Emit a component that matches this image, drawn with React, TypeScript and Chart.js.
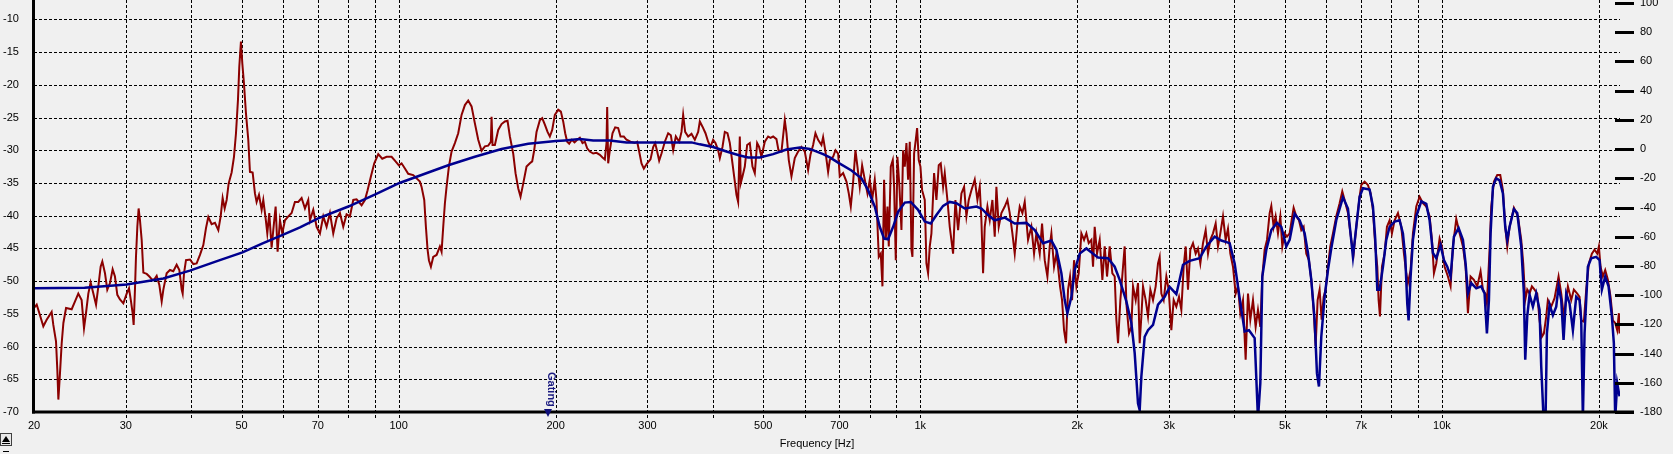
import React, { useEffect, useRef } from 'react';
import { Chart, registerables } from 'chart.js';

Chart.register(...registerables);

// Measured response (dark red)
const redFreq = [
  20.0, 20.24, 20.48, 20.84, 21.15, 21.62, 21.78, 22.04, 22.17, 22.27, 22.43, 22.6, 22.77, 23.04, 23.62, 23.97, 24.32, 24.68, 24.94, 25.16,
  25.42, 25.68, 25.99, 26.3, 26.57, 26.84, 27.04, 27.36, 27.64, 27.97, 28.3, 28.59, 28.89, 29.23, 29.67, 30.11, 30.42, 30.69, 30.91, 31.05,
  31.23, 31.37, 31.56, 31.74, 31.93, 32.17, 32.41, 32.89, 33.28, 33.62, 33.97, 34.37, 34.78, 35.14, 35.4, 35.92, 36.45, 36.99, 37.54, 37.99,
  38.38, 38.55, 38.78, 39.12, 39.82, 40.41, 41.0, 41.61, 42.23, 42.73, 43.17, 43.81, 44.46, 45.12, 45.59, 45.99, 46.4, 46.81, 47.22, 47.85,
  48.35, 48.78, 49.21, 49.5, 49.86, 50.16, 50.53, 50.98, 51.5, 51.88, 52.5, 53.04, 53.43, 53.99, 54.63, 55.03, 55.6, 56.01, 56.5, 57.09,
  57.51, 58.11, 58.62, 59.23, 59.84, 60.55, 61.45, 62.36, 63.27, 64.21,
  65.17, 66.14, 67.11, 67.61, 68.61, 69.63, 70.66, 71.71, 72.77, 73.85, 74.94, 76.05, 77.18, 78.32, 79.48, 80.66, 81.86, 83.07, 84.92, 86.18,
  87.2, 88.49, 89.81, 91.41, 93.03, 94.83, 96.94, 98.38, 100.13, 101.32, 102.82, 104.34, 106.67, 108.25, 109.86, 110.67, 111.98, 112.8, 113.64, 114.31,
  115.32, 116.51, 118.24, 119.99, 120.88, 121.77, 122.67, 123.57, 124.85, 126.33, 128.2, 130.1, 132.03, 133.99, 135.97, 137.99, 140.03, 142.11, 144.21, 146.35,
  148.52, 150.27, 150.72, 151.38, 152.95, 155.22, 157.52, 159.85, 161.74, 163.42, 165.84, 167.55, 169.54, 171.29, 173.32, 175.89, 178.5, 180.34, 181.94, 183.82,
  186.55, 188.48, 190.71, 192.97, 194.96, 196.98, 199.31, 202.27, 204.66, 206.78,
  207.39, 208.61, 210.46, 212.33, 214.84, 217.38, 219.96, 222.56, 225.2, 227.53, 229.88, 232.6, 236.05, 239.55, 243.09, 245.97, 248.52, 250.35, 251.09, 252.2,
  254.06, 257.07, 260.11, 263.58, 266.31, 270.25, 273.45, 278.32, 283.7, 286.63, 289.17, 292.17, 295.19, 299.56, 304.01, 307.6, 310.33, 313.08, 315.86, 319.13,
  323.86, 328.65, 332.55, 335.99, 339.96, 345.0, 348.57, 351.14, 354.26, 358.98, 364.3, 369.69, 375.17, 377.94, 382.42, 387.51, 392.1, 396.16, 400.84, 404.99,
  409.78, 412.81, 417.69, 422.02, 427.01, 431.43, 436.54, 441.06, 444.31, 447.59, 450.9, 452.89, 456.23, 460.96, 465.73, 471.24, 476.82, 481.75, 486.74, 491.05,
  496.13, 503.49, 510.95, 516.24, 522.35, 530.08, 534.79, 541.92, 549.94, 554.01, 559.74, 566.36, 574.75, 583.27, 591.91, 600.68, 609.58, 615.89, 623.18, 629.63,
  637.08, 646.52, 651.3, 658.04, 665.83,
  670.8, 680.7, 687.8, 695.9, 701.0, 711.4, 722.0, 729.4, 735.9, 743.5, 751.2, 757.9, 765.7, 773.7, 782.8, 792.1, 800.3, 808.6, 818.1, 824.2,
  832.7, 840.1, 846.3, 852.5, 858.8, 865.2, 870.3, 878.0, 885.8, 891.0, 897.6, 904.2, 912.2, 920.3, 927.1, 933.9, 940.8, 947.8, 954.8, 961.8,
  966.1, 973.2, 980.4, 986.2, 993.4, 1000.8, 1008.2, 1020.1, 1027.6, 1035.2, 1042.9, 1050.6, 1063.0, 1074.0, 1085.1, 1094.7, 1106.1, 1114.2, 1127.4, 1139.1,
  1156.0, 1167.9, 1181.8, 1199.3, 1213.5, 1226.0, 1238.7, 1253.4, 1271.9, 1287.0, 1300.3, 1309.9, 1319.6, 1329.3, 1345.1, 1359.0, 1375.0, 1389.3, 1399.5, 1414.0,
  1430.8, 1452.0, 1469.2, 1484.3, 1501.9, 1517.5, 1535.4, 1551.3, 1569.7, 1585.9, 1609.4, 1633.3, 1652.6, 1669.7, 1694.4, 1712.0, 1732.3, 1752.8, 1770.9, 1784.0,
  1805.1, 1823.8, 1837.2, 1853.5, 1870.0, 1886.5, 1903.2, 1920.1, 1937.1, 1954.3, 1971.6, 1992.0, 2012.6, 2036.5, 2060.6, 2081.9, 2103.5, 2128.4, 2144.1,
  2159.8, 2182.2, 2208.0, 2234.2, 2257.3, 2280.6, 2307.6, 2334.9, 2359.1, 2376.5, 2394.1, 2418.9, 2447.5, 2465.5, 2483.8, 2513.1, 2539.2, 2557.9, 2588.2, 2615.0,
  2634.3, 2653.7, 2673.3, 2705.0, 2732.9, 2761.2, 2793.9, 2827.0, 2856.2, 2877.3, 2898.6, 2928.5, 2963.2, 2993.8, 3029.3, 3060.7, 3096.9, 3133.6, 3166.0, 3198.8,
  3227.1, 3260.5, 3294.3, 3333.3, 3372.8, 3407.6, 3442.9, 3483.6, 3524.9, 3561.4, 3598.2, 3640.8, 3683.9, 3722.0, 3760.6, 3805.1, 3850.1, 3890.0, 3930.2, 3976.8,
  4023.8, 4065.5, 4107.6, 4156.2, 4205.3, 4248.9, 4292.8, 4343.6, 4395.1, 4440.5, 4486.5, 4526.2, 4573.1, 4620.5, 4675.2, 4709.7, 4758.4, 4800.6, 4850.3, 4900.5,
  4943.9, 4995.1, 5046.8, 5106.5, 5151.8, 5197.5, 5258.9, 5321.2, 5376.2, 5431.9, 5496.2, 5561.3, 5618.8, 5677.0, 5727.3, 5778.1, 5829.3, 5880.9, 5933.1, 5985.7,
  6047.6, 6110.2, 6182.5, 6274.2, 6367.1, 6442.5, 6509.1, 6605.6, 6703.5, 6772.9, 6853.0, 6954.6,
  7006, 7110, 7215, 7301, 7376, 7453, 7519, 7563, 7608, 7675, 7766, 7846, 7939, 8021, 8116, 8237, 8359, 8458, 8545, 8608,
  8710, 8800, 8931, 9063, 9197, 9334, 9472, 9570, 9655, 9755, 9899, 10002, 10120, 10270, 10391, 10499, 10655, 10813, 10973, 11103,
  11218, 11350, 11518, 11689, 11862, 11985, 12109, 12198, 12343, 12434, 12581, 12768, 12938, 13091, 13226, 13344, 13482, 13742, 13987, 14194,
  14320, 14447, 14575, 14726, 14878, 15054, 15232, 15390, 15549, 15687, 15849, 15966, 16203, 16443, 16736, 16934, 17134, 17440, 17698, 17907,
  18173, 18361, 18497, 18715, 18909, 19133, 19388, 19617, 19850, 19996, 20144, 20352, 20563, 20806, 21053, 21270, 21490, 21681, 21841, 21905,
];
const redDb = [
  -54.1, -53.6, -54.9, -56.9, -55.9, -54.7, -56.7, -59.2, -63.6, -68.1, -64.1, -59.5, -56.4, -54.1, -54.3, -53.1, -51.9, -52.9, -57.2, -54.9,
  -51.9, -50.2, -51.9, -53.6, -50.8, -47.8, -47.0, -48.8, -51.3, -50.3, -48.2, -49.3, -52.1, -52.8, -53.4, -51.9, -51.1, -53.1, -54.9, -56.7,
  -51.3, -46.3, -41.7, -38.9, -40.7, -43.7, -48.7, -48.9, -49.3, -49.7, -49.8, -49.2, -50.6, -53.1, -51.3, -48.8, -48.3, -48.5, -47.5, -48.3,
  -51.3, -51.9, -48.8, -46.8, -46.7, -47.4, -47.3, -46.0, -44.5, -41.9, -40.2, -41.3, -41.1, -42.2, -40.1, -37.3, -38.9, -37.6, -35.1, -33.4,
  -31.0, -27.4, -22.3, -17.2, -13.4, -16.7, -19.8, -24.4, -28.4, -33.3, -33.4, -36.6, -37.9, -36.8, -39.1, -37.6, -40.4, -42.7, -39.6, -44.9,
  -42.2, -38.6, -45.5, -40.7, -42.7, -40.7, -40.1, -39.6, -37.9, -37.9,
  -37.3, -38.9, -37.6, -40.7, -39.1, -41.7, -42.7, -40.1, -41.7, -39.6, -42.7, -40.4, -39.6, -41.7, -39.8, -40.1, -37.6, -37.5, -38.4, -37.6,
  -36.1, -34.0, -32.0, -30.6, -31.3, -31.0, -31.0, -31.6, -32.3, -32.0, -32.8, -33.6, -33.8, -34.3, -34.8, -35.6, -37.6, -41.7, -45.2, -46.8,
  -47.8, -46.3, -46.0, -44.7, -45.5, -41.7, -38.1, -35.6, -32.5, -30.2, -28.9, -27.4, -24.6, -23.1, -22.4, -23.3, -25.9, -28.4, -30.1, -29.4,
  -29.3, -28.7, -24.9, -29.2, -29.2, -26.9, -26.0, -25.6, -25.5, -27.9, -30.5, -33.5, -35.8, -37.1, -35.1, -32.5, -32.0, -31.7, -30.0, -27.2,
  -25.4, -25.1, -26.1, -27.2, -27.9, -26.9, -24.6, -23.8, -24.1, -25.6,
  -25.6, -27.4, -28.7, -29.0, -28.4, -28.8, -28.4, -28.1, -28.9, -28.7, -29.7, -30.2, -30.5, -30.4, -30.7, -31.1, -31.4, -28.9, -23.4, -32.0,
  -30.0, -27.4, -26.5, -26.6, -27.9, -27.9, -28.4, -28.7, -28.9, -28.7, -30.2, -32.0, -32.8, -32.0, -31.4, -29.5, -28.9, -30.2, -31.6, -30.5,
  -28.7, -27.4, -27.7, -30.0, -27.9, -28.7, -27.2, -24.6, -27.2, -27.9, -27.5, -28.4, -27.2, -25.6, -26.4, -27.4, -28.7, -29.5, -28.4, -28.9,
  -30.0, -31.2, -29.5, -27.2, -27.4, -28.9, -32.0, -34.8, -36.8, -37.9, -27.9, -35.0, -34.0, -32.5, -29.2, -28.9, -32.5, -33.5, -28.9, -29.5,
  -31.0, -28.7, -27.9, -28.1, -27.9, -28.3, -30.0, -30.2, -25.4, -27.4, -31.5, -34.0, -31.2, -30.2, -29.5, -30.2, -33.0, -30.7, -29.2, -27.4,
  -28.4, -29.2, -28.0, -30.2, -33.3,
  -31.5, -31.0, -30.0, -30.5, -34.0, -33.5, -34.8, -36.6, -38.6, -34.9, -30.0, -32.5, -35.6, -32.3, -34.5, -36.6, -34.5, -37.6, -34.5, -37.6,
  -46.3, -45.8, -50.8, -34.5, -43.7, -38.6, -44.7, -32.5, -31.5, -35.6, -46.8, -31.0, -35.6, -42.2, -30.0, -32.5, -28.9, -34.5, -28.7, -45.2,
  -46.3, -30.5, -28.4, -26.6, -31.5, -32.5, -36.1, -37.6, -47.3, -48.8, -44.7, -42.7, -33.5, -37.6, -32.3, -32.0, -35.6, -33.5, -37.6, -41.7,
  -45.8, -37.6, -42.2, -36.6, -35.6, -40.1, -37.6, -36.1, -34.5, -37.6, -35.6, -40.7, -48.8, -41.7, -38.6, -40.7, -37.6, -43.2, -35.6, -41.7,
  -39.6, -38.6, -37.6, -39.6, -42.7, -45.8, -41.2, -38.6, -39.6, -37.9, -43.7, -41.7, -45.8, -42.7, -45.8, -41.2, -46.8, -49.3, -44.7, -42.7,
  -47.8, -45.8, -47.8, -50.8, -52.9, -57.5, -59.5, -51.3, -49.3, -52.9, -46.8, -50.8, -48.8, -42.7, -43.7, -42.7, -44.2, -43.7, -47.8,
  -41.7, -45.8, -43.7, -49.8, -44.7, -49.3, -44.7, -48.8, -49.3, -55.9, -59.5, -52.9, -47.8, -44.7, -53.4, -58.0, -57.0, -50.8, -52.9, -50.3,
  -59.5, -55.4, -50.8, -52.9, -55.4, -51.3, -52.9, -50.8, -47.3, -46.3, -51.9, -52.9, -49.3, -51.3, -57.5, -52.9, -53.9, -52.4, -54.4, -47.8,
  -44.7, -51.3, -45.2, -44.2, -45.8, -45.0, -47.3, -44.2, -42.2, -45.8, -43.7, -42.7, -41.2, -44.7, -42.7, -40.1, -43.7, -42.0, -45.8, -47.8,
  -51.9, -50.8, -54.9, -52.9, -62.0, -51.9, -55.9, -52.9, -57.0, -54.4, -57.0, -49.3, -45.2, -43.7, -39.6, -38.5, -41.7, -40.1, -42.7, -40.1,
  -44.7, -42.7, -43.2, -42.7, -40.7, -38.8, -40.1, -40.7, -42.2, -41.7, -45.8, -46.8, -49.8, -54.4, -59.9, -52.9, -51.3, -55.9, -52.4, -51.3,
  -47.8, -44.7, -42.7, -40.1, -38.1, -36.3, -37.6, -39.6, -43.7, -45.8, -41.7, -37.1,
  -35.3, -34.8, -35.3, -36.6, -39.1, -44.7, -47.8, -52.9, -55.4, -47.8, -45.8, -41.7, -40.7, -42.7, -40.7, -39.6, -41.7, -45.8, -48.8, -50.3,
  -48.3, -42.7, -38.6, -37.1, -38.1, -38.6, -40.1, -43.7, -48.8, -47.3, -43.5, -44.7, -47.8, -49.3, -50.8, -44.7, -40.5, -42.7, -44.7, -47.8,
  -54.9, -49.3, -49.8, -50.8, -48.5, -51.3, -51.9, -53.4, -45.2, -38.6, -34.8, -33.8, -33.8, -36.1, -41.7, -44.7, -41.7, -38.8, -40.1, -43.7,
  -47.3, -52.9, -51.3, -51.9, -50.8, -51.3, -51.9, -56.0, -58.5, -58.0, -55.4, -52.9, -53.9, -52.6, -49.3, -51.9, -55.4, -50.8, -52.9, -51.3,
  -51.9, -52.4, -56.0, -56.2, -51.3, -47.3, -45.8, -45.2, -45.8, -44.7, -47.8, -49.3, -48.3, -49.8, -52.4, -56.0, -56.4, -57.5, -54.9, -58.0,
];

// Smoothed response (dark blue)
const blueFreq = [
  20, 25, 30.1, 35.4, 39.8, 45.0, 50.2, 55.0, 60.1, 64.7, 70.1, 80.1, 90.0, 100.4, 114.0, 124.5, 140.0, 157.5, 177.2, 200.2,
  208.3, 222.6, 236.1, 254.1, 273.5, 300, 331.1, 364.3, 377.9, 400.8, 425.1, 450.9, 467.8, 492.5, 522.4, 554.0, 587.6, 614.1, 651.3, 670.7,
  695.9, 738.1, 771.4, 794.4, 818.1, 836.4, 852.5, 867.7, 887.1, 906.9, 933.9, 959.0, 990.5, 1020.1, 1047.5, 1074.0, 1106.1, 1139.1, 1173.1, 1217.0,
  1281.3, 1309.9, 1349.0, 1389.3, 1452.0, 1517.5, 1597.6, 1657.5, 1719.5, 1784.0, 1823.8, 1864.5, 1892.1, 1914.5, 1948.6, 1977.4, 2021.6, 2081.9, 2159.9, 2191.8,
  2290.7, 2359.1, 2411.7, 2483.8, 2539.2, 2576.8, 2615.0, 2634.3, 2653.7, 2693.0, 2732.9, 2793.9, 2856.2, 2941.5, 3007.1, 3096.9, 3189.4, 3284.6, 3432.8, 3535.3,
  3667.7, 3777.2, 3918.7, 4006.1, 4095.5, 4186.8, 4267.7, 4375.7, 4440.5, 4486.5, 4526.2, 4606.9, 4709.7, 4829.0, 4922.2, 5032.0, 5106.5, 5220.4, 5336.9, 5455.9,
  5536.8, 5618.8, 5702.1, 5761.1, 5812.2, 5872.3, 5959.3, 6047.6, 6137.2, 6274.2, 6461.5, 6605.6, 6753.0, 6853.0, 6954.6, 7058, 7268, 7376, 7453, 7519,
  7596, 7709, 7823, 7939, 8116, 8297, 8420, 8507, 8583, 8633, 8710, 8800, 8931, 9130, 9334, 9472, 9612, 9755, 9943, 10090,
  10240, 10391, 10545, 10765, 10973, 11103, 11218, 11384, 11638, 11897, 12074, 12198, 12307, 12398, 12526, 12711, 12900, 13091, 13226, 13344,
  13482, 13742, 13946, 14194, 14362, 14447, 14575, 14726, 14944, 15165, 15390, 15503, 15664, 15803, 15896, 16084, 16323, 16565, 16736, 16934,
  17109, 17312, 17568, 17829, 18093, 18361, 18497, 18633, 18771, 19049, 19331, 19762, 20055, 20263, 20563, 20868, 21177, 21364, 21490, 21681,
  21905,
];
const blueDb = [
  -51.1, -51.0, -50.5, -49.6, -48.4, -46.9, -45.6, -44.2, -42.9, -41.8, -40.4, -38.6, -36.8, -35.0, -33.4, -32.3, -31.0, -29.8, -29.0, -28.6,
  -28.5, -28.3, -28.5, -28.5, -28.8, -28.8, -28.8, -28.8, -29.1, -29.5, -30.2, -30.8, -31.1, -31.1, -30.6, -29.9, -29.6, -29.8, -30.6, -31.1,
  -31.9, -33.1, -34.3, -36.1, -38.6, -41.7, -43.5, -43.6, -41.7, -39.4, -38.0, -37.9, -39.1, -40.9, -41.2, -39.9, -38.5, -37.9, -38.1, -38.9,
  -38.6, -38.9, -39.9, -40.7, -40.3, -41.2, -41.1, -42.2, -44.2, -43.8, -45.2, -48.8, -52.9, -54.9, -52.4, -48.3, -45.8, -45.0, -46.0, -46.4,
  -46.5, -47.8, -49.8, -53.1, -56.4, -61.0, -68.7, -69.7, -64.6, -58.5, -57.5, -56.7, -53.6, -52.4, -50.9, -52.0, -47.5, -46.9, -46.5, -44.7,
  -43.2, -43.8, -44.2, -47.3, -52.6, -57.7, -57.5, -58.7, -71.0, -65.6, -49.3, -45.2, -42.2, -41.1, -41.7, -44.7, -43.7, -39.7, -40.7, -42.7,
  -45.7, -49.8, -55.9, -64.1, -66.1, -58.5, -52.4, -48.3, -45.0, -40.7, -37.2, -38.9, -46.3, -41.7, -37.1, -35.8, -36.0, -38.6, -43.7, -51.3,
  -51.3, -47.8, -43.7, -41.7, -40.9, -40.7, -42.7, -46.3, -53.5, -56.0, -49.3, -43.7, -40.1, -37.8, -38.2, -40.7, -45.7, -46.5, -44.5, -46.8,
  -47.8, -49.3, -43.2, -41.9, -43.7, -47.3, -51.9, -50.3, -51.1, -50.8, -51.9, -58.0, -52.9, -42.7, -35.6, -34.3, -34.6, -36.6, -41.7, -43.7,
  -41.7, -39.0, -39.6, -44.7, -51.9, -62.0, -55.4, -52.1, -53.9, -51.9, -54.4, -63.0, -71.0, -71.0, -58.0, -53.6, -55.2, -53.9, -50.8, -52.9,
  -59.0, -51.9, -53.4, -57.5, -52.4, -52.9, -56.0, -71.0, -58.0, -47.8, -46.5, -46.3, -46.8, -51.3, -49.3, -50.8, -55.4, -59.5, -71.0, -65.6,
  -67.6,
];

// Axes
const xGridFreqs = [20, 30, 40, 50, 60, 70, 80, 90, 100, 200, 300, 400, 500, 600, 700, 800, 900, 1000, 2000, 3000, 4000, 5000, 6000, 7000, 8000, 9000, 10000, 20000];
const xLabelFreqs = [20, 30, 50, 70, 100, 200, 300, 500, 700, 1000, 2000, 3000, 5000, 7000, 10000, 20000];
const xLabelTexts = ['20', '30', '50', '70', '100', '200', '300', '500', '700', '1k', '2k', '3k', '5k', '7k', '10k', '20k'];
const dbTicks = [-70, -65, -60, -55, -50, -45, -40, -35, -30, -25, -20, -15, -10];
const phaseTicks = [-180, -160, -140, -120, -100, -80, -60, -40, -20, 0, 20, 40, 60, 80, 100];
const xMin = 20;
const xMax = 21950;
const dbMin = -70;
const dbMax = -7.5;
const phaseMin = -180;
const phaseMax = 100;
const gatingFreq = 193;
const xTitle = 'Frequency [Hz]';
const gatingLabel = 'Gating';

const FONT = '"Liberation Sans", Arial, sans-serif';

export default function App() {
  const canvasRef = useRef<HTMLCanvasElement | null>(null);

  useEffect(() => {
    document.body.style.margin = '0';
    document.body.style.background = '#f0f0f0';
    const canvas = canvasRef.current;
    if (!canvas) return;

    const redData = redFreq.map((f, i) => ({ x: f, y: redDb[i] }));
    const blueData = blueFreq.map((f, i) => ({ x: f, y: blueDb[i] }));

    const decor = {
      id: 'decor',
      beforeDraw(chart: any) {
        const ctx = chart.ctx;
        ctx.save();
        ctx.fillStyle = '#f0f0f0';
        ctx.fillRect(0, 0, chart.width, chart.height);
        ctx.restore();
      },
      beforeDatasetsDraw(chart: any) {
        const ctx = chart.ctx;
        const area = chart.chartArea;
        const xs = chart.scales.x;
        const ys = chart.scales.y;
        ctx.save();
        ctx.strokeStyle = '#000';
        ctx.lineWidth = 1;
        ctx.setLineDash([3, 2]);
        // horizontal grid lines
        dbTicks.forEach((v) => {
          if (v === dbMin) return;
          const y = Math.round(ys.getPixelForValue(v)) + 0.5;
          ctx.beginPath();
          ctx.moveTo(area.left, y);
          ctx.lineTo(area.right, y);
          ctx.stroke();
        });
        // vertical grid lines (extend below axis like tick marks)
        xGridFreqs.forEach((f) => {
          if (f === xMin) return;
          const x = Math.round(xs.getPixelForValue(f)) + 0.5;
          ctx.beginPath();
          ctx.moveTo(x, 0);
          ctx.lineTo(x, area.bottom + 7);
          ctx.stroke();
        });
        ctx.restore();
      },
      afterDatasetsDraw(chart: any) {
        const ctx = chart.ctx;
        const area = chart.chartArea;
        const xs = chart.scales.x;
        const ys2 = chart.scales.y2;
        ctx.save();
        ctx.fillStyle = '#000';
        // axis lines
        ctx.fillRect(area.left - 2, 0, 3, area.bottom + 1.5);
        ctx.fillRect(area.left - 2, area.bottom - 1.5, area.right + 14 - (area.left - 2), 3);
        // right axis tick marks
        phaseTicks.forEach((v) => {
          const y = ys2.getPixelForValue(v);
          ctx.fillRect(area.right - 5, Math.round(y) - 1, 19, 3);
        });
        // gating marker
        const gx = Math.round(xs.getPixelForValue(gatingFreq));
        ctx.fillStyle = '#10107a';
        ctx.beginPath();
        ctx.moveTo(gx - 4, area.bottom - 3);
        ctx.lineTo(gx + 4, area.bottom - 3);
        ctx.lineTo(gx, area.bottom + 5);
        ctx.closePath();
        ctx.fill();
        ctx.save();
        ctx.translate(gx + 3, area.bottom - 40);
        ctx.rotate(Math.PI / 2);
        ctx.font = 'bold 11px ' + FONT;
        ctx.fillStyle = '#1a1a80';
        ctx.textAlign = 'left';
        ctx.textBaseline = 'middle';
        ctx.fillText(gatingLabel, 0, 0);
        ctx.restore();
        // axis title
        ctx.font = '11px ' + FONT;
        ctx.fillStyle = '#000';
        ctx.textAlign = 'center';
        ctx.textBaseline = 'middle';
        ctx.fillText(xTitle, 817, 444);
        // small scroll button at bottom-left
        ctx.fillStyle = '#e8e8e8';
        ctx.fillRect(0, 433, 12, 13);
        ctx.strokeStyle = '#404040';
        ctx.lineWidth = 1;
        ctx.strokeRect(0.5, 433.5, 11, 12);
        ctx.fillStyle = '#000';
        ctx.beginPath();
        ctx.moveTo(6, 436);
        ctx.lineTo(10, 442);
        ctx.lineTo(2, 442);
        ctx.closePath();
        ctx.fill();
        ctx.fillRect(2, 443, 8, 1);
        ctx.fillRect(3, 451, 6, 1);
        ctx.restore();
      },
    };

    const zeroPad = (s: any) => {
      s.paddingTop = 0;
      s.paddingBottom = 0;
      s.paddingLeft = 0;
      s.paddingRight = 0;
    };

    const chart = new Chart(canvas, {
      type: 'line',
      data: {
        datasets: [
          {
            label: 'Smoothed',
            data: blueData,
            borderColor: '#00008f',
            borderWidth: 2.5,
            pointRadius: 0,
            tension: 0,
            yAxisID: 'y',
            order: 1,
          },
          {
            label: 'Measured',
            data: redData,
            borderColor: '#8b0000',
            borderWidth: 2,
            pointRadius: 0,
            tension: 0,
            yAxisID: 'y',
            order: 2,
          },
        ],
      },
      options: {
        responsive: false,
        animation: false,
        devicePixelRatio: 1,
        events: [],
        layout: { padding: { left: 3, top: 3, right: 0, bottom: 0 } },
        plugins: { legend: { display: false }, tooltip: { enabled: false } },
        scales: {
          x: {
            type: 'logarithmic',
            position: 'bottom',
            min: xMin,
            max: xMax,
            grid: { display: false, drawTicks: false },
            border: { display: false },
            afterBuildTicks: (s: any) => {
              s.ticks = xGridFreqs.map((v) => ({ value: v }));
            },
            afterFit: (s: any) => {
              s.height = 42;
              zeroPad(s);
            },
            ticks: {
              autoSkip: false,
              maxRotation: 0,
              minRotation: 0,
              padding: 7,
              color: '#000',
              font: { family: FONT, size: 11 },
              callback: (v: any) => {
                const i = xLabelFreqs.indexOf(Number(v));
                return i >= 0 ? xLabelTexts[i] : '';
              },
            },
          },
          y: {
            type: 'linear',
            position: 'left',
            min: dbMin,
            max: dbMax,
            grid: { display: false, drawTicks: false },
            border: { display: false },
            afterBuildTicks: (s: any) => {
              s.ticks = dbTicks.map((v) => ({ value: v }));
            },
            afterFit: (s: any) => {
              s.width = 31;
              zeroPad(s);
            },
            ticks: {
              crossAlign: 'far',
              padding: 0,
              color: '#000',
              font: { family: FONT, size: 11 },
              callback: (v: any) => String(v),
            },
          },
          y2: {
            type: 'linear',
            position: 'right',
            min: phaseMin,
            max: phaseMax,
            grid: { display: false, drawTicks: false },
            border: { display: false },
            afterBuildTicks: (s: any) => {
              s.ticks = phaseTicks.map((v) => ({ value: v }));
            },
            afterFit: (s: any) => {
              s.width = 53;
              zeroPad(s);
            },
            ticks: {
              padding: 20,
              color: '#000',
              font: { family: FONT, size: 11 },
              callback: (v: any) => String(v),
            },
          },
        },
      },
      plugins: [decor],
    });

    return () => {
      chart.destroy();
    };
  }, []);

  return (
    <div style={{ width: 1673, height: 454, background: '#f0f0f0' }}>
      <canvas ref={canvasRef} width={1673} height={454} style={{ display: 'block' }} />
    </div>
  );
}
